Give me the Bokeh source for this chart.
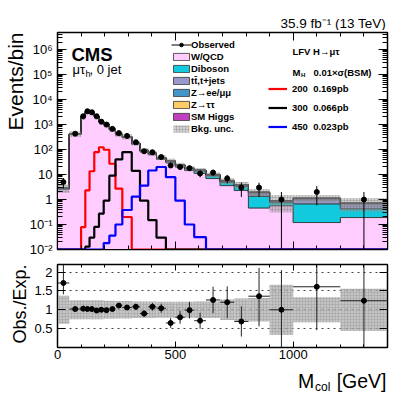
import math
from bokeh.plotting import figure
from bokeh.layouts import column
from bokeh.models import (Range1d, LogAxis, LinearAxis, FixedTicker, Title,
                          CustomJSTickFormatter, Label, Legend, LegendItem)
from bokeh.embed import file_html
from bokeh.resources import INLINE

FONT = "Liberation Sans"

# ---------------- data ----------------
edges = [0, 50, 100, 118, 136, 156, 176, 196, 220, 246, 275, 315, 350, 385, 420,
         460, 500, 540, 580, 630, 690, 750, 810, 900, 1000, 1200, 1400]
observed = [5, 430, 2140, 3400, 3100, 2140, 1300, 1000, 670, 455, 350, 196, 85, 78,
            50, 23, 20, 18, 11, 12, 7, 3, 3, 1, 2, 1]
wqcd = [2.6, 412, 2040, 3265, 2965, 2115, 1248, 960, 618, 377, 300, 163, 83, 62.6,
        40.8, 29.4, 20.1, 14.4, 11.2, 6.9, 3.6, 2.3, 0.46, 0.57, 0.12, 0.19]
diboson = [0.15, 4, 21, 40, 46, 44, 33, 30, 26, 20.5, 16.5, 11, 6.6, 5.8,
           4.3, 3.5, 2.9, 2.5, 2.7, 2.2, 1.4, 1.1, 0.9, 0.21, 0.55, 0.24]
ttbar = [0.08, 2, 10, 14, 17, 13, 12, 13, 9, 9, 10, 5, 3.2, 2.6,
         2.1, 1.5, 1.1, 0.8, 0.8, 0.5, 0.42, 0.36, 0.5, 0.1, 0.4, 0.25]
zll = [0.03, 0.6, 3, 3, 3, 2, 2, 2, 1.3, 1.2, 1.2, 0.7, 0.4, 0.35,
       0.3, 0.2, 0.15, 0.1, 0.1, 0.07, 0.06, 0.05, 0.05, 0.01, 0.03, 0.02]
ztt = [0.03, 1.2, 5, 7, 8, 5, 4, 4, 2.2, 2, 2, 1.1, 0.7, 0.55,
       0.4, 0.3, 0.2, 0.15, 0.15, 0.1, 0.09, 0.07, 0.07, 0.015, 0.04, 0.025]
smh = [0.01, 0.2, 1, 1, 1, 1, 1, 1, 0.5, 0.3, 0.3, 0.2, 0.1, 0.1,
       0.1, 0.1, 0.05, 0.05, 0.05, 0.03, 0.03, 0.02, 0.02, 0.005, 0.01, 0.005]
bkg_unc = [0.37, 0.25, 0.25, 0.25, 0.25, 0.25, 0.25, 0.24, 0.24, 0.23, 0.23, 0.22, 0.22, 0.22,
           0.21, 0.21, 0.21, 0.21, 0.22, 0.22, 0.27, 0.3, 0.31, 0.66, 0.33, 0.56]
sig200 = [0, 0, 0.078, 2.3, 13.5, 78, 123, 98, 27, 2.7, 0.2, 0, 0, 0,
          0, 0, 0, 0, 0, 0, 0, 0, 0, 0, 0, 0]
sig300 = [0, 0, 0, 0.013, 0.03, 0.08, 0.27, 0.9, 9, 40, 78, 14, 0.9, 0.15,
          0.03, 0, 0, 0, 0, 0, 0, 0, 0, 0, 0, 0]
sig450 = [0, 0, 0, 0, 0, 0, 0, 0.018, 0.036, 0.1, 0.38, 1.3, 3.6, 14.5,
          20, 7.8, 0.91, 0.1, 0.031, 0, 0, 0, 0, 0, 0, 0]
ratio = [1.71, 1.02, 1.03, 1.02, 1.02, 0.98, 1.0, 0.99, 1.02, 1.11, 1.06, 1.08, 0.9, 1.08,
         1.04, 0.65, 0.8, 0.99, 0.71, 1.26, 1.2, 0.69, 1.36, 1.0, 1.61, 1.24]
ratio_err_lo = [0.3, 0.05, 0.025, 0.02, 0.02, 0.025, 0.03, 0.035, 0.04, 0.05, 0.06, 0.08, 0.09, 0.1,
                0.12, 0.13, 0.17, 0.22, 0.21, 0.35, 0.42, 0.4, 0.8, 1.0, 1.15, 1.24]
ratio_err_hi = [0.5, 0.05, 0.025, 0.02, 0.02, 0.025, 0.03, 0.035, 0.04, 0.05, 0.06, 0.08, 0.09, 0.1,
                0.12, 0.13, 0.17, 0.22, 0.21, 0.35, 0.42, 0.4, 0.75, 1.05, 1.2, 1.2]

components = [("W/QCD", wqcd, "#ffccff"),
              ("Diboson", diboson, "#12cadd"),
              ("t\u0074\u0304,t+jets", ttbar, "#9999cc"),
              ("Z\u2192ee/\u03bc\u03bc", zll, "#4496c8"),
              ("Z\u2192\u03c4\u03c4", ztt, "#ffcc66"),
              ("SM Higgs", smh, "#c040c0")]
signals = [("200\u00a0\u00a00.169pb", sig200, "#ff0000"),
           ("300\u00a0\u00a00.066pb", sig300, "#000000"),
           ("450\u00a0\u00a00.023pb", sig450, "#0000ff")]

n = len(observed)
lefts = edges[:-1]
rights = edges[1:]
centers = [(a + b) / 2 for a, b in zip(lefts, rights)]
halfw = [(b - a) / 2 for a, b in zip(lefts, rights)]

YMIN, YMAX = 0.01, 4.8e6
FLOOR = 1e-4

blankfmt = CustomJSTickFormatter(code='return "";')


def step_xy(vals):
    xs, ys = [], []
    for i in range(n):
        xs += [edges[i], edges[i + 1]]
        ys += [vals[i], vals[i]]
    return xs, ys


def style_axis(ax, maj, mnr, size="13px", labels=True, standoff=5):
    ax.major_tick_in = maj
    ax.major_tick_out = 0
    ax.minor_tick_in = mnr
    ax.minor_tick_out = 0
    ax.axis_line_color = "black"
    ax.major_tick_line_color = "black"
    ax.minor_tick_line_color = "black"
    ax.major_label_text_font = FONT
    ax.major_label_text_color = "black"
    if labels:
        ax.major_label_text_font_size = size
        ax.major_label_standoff = standoff
    else:
        ax.formatter = blankfmt
        ax.major_label_text_font_size = "1px"
        ax.major_label_standoff = 0


def lab(fig, x, y, text, size, style="normal", align="left"):
    fig.add_layout(Label(x=x, y=y, x_units="screen", y_units="screen", text=text,
                         text_font=FONT, text_font_size=size, text_font_style=style,
                         text_align=align, text_baseline="alphabetic",
                         text_color="black"))


def text_panel(w, h):
    f = figure(width=w, height=h, x_range=Range1d(0, 1), y_range=Range1d(0, 1),
               x_axis_location=None, y_axis_location=None, min_border=0,
               outline_line_color=None, toolbar_location=None, output_backend="svg")
    f.xgrid.visible = False
    f.ygrid.visible = False
    return f


# ---------------- header / footer text panels ----------------
# (their frames are aligned with the plot frames, so x is measured from the frame's left edge)
header = text_panel(400, 30)
lab(header, 328.5, 7, "35.9 fb\u207b\u00b9 (13 TeV)", "13.5px", align="right")

footer = text_panel(400, 27)
lab(footer, 240.5, 11.3, "M", "19.5px")
lab(footer, 257.5, 6, "col", "12px")
lab(footer, 329, 11.3, "[GeV]", "19.5px", align="right")

# ---------------- top panel ----------------
p = figure(width=400, height=227, x_range=Range1d(0, 1400), y_range=Range1d(YMIN, YMAX),
           y_axis_type="log", output_backend="svg", toolbar_location=None,
           min_border_left=57, min_border_right=13, min_border_top=2, min_border_bottom=8)
p.xgrid.visible = False
p.ygrid.visible = False
p.outline_line_color = "black"
p.outline_line_width = 1.5

xt = FixedTicker(ticks=[0, 500, 1000], minor_ticks=list(range(0, 1401, 100)))
yt = FixedTicker(ticks=[10.0 ** k for k in range(-2, 7)],
                 minor_ticks=[m * 10.0 ** k for k in range(-2, 7) for m in range(2, 10)])
logfmt = CustomJSTickFormatter(code="""
const e = Math.round(Math.log10(tick));
if (e == 0) return "1";
if (e == 1) return "10";
const sup = {"-":"\u207b","0":"\u2070","1":"\u00b9","2":"\u00b2","3":"\u00b3","4":"\u2074","5":"\u2075","6":"\u2076","7":"\u2077","8":"\u2078","9":"\u2079"};
return "10" + String(e).split("").map(c => sup[c]).join("");
""")
p.xaxis.ticker = xt
p.yaxis.ticker = yt
style_axis(p.xaxis[0], 8, 4, labels=False)
style_axis(p.yaxis[0], 9, 5, size="13px", standoff=5)
p.yaxis.formatter = logfmt
ax_top = LinearAxis(ticker=xt)
style_axis(ax_top, 8, 4, labels=False)
p.add_layout(ax_top, "above")
ax_r = LogAxis(ticker=yt)
style_axis(ax_r, 9, 5, labels=False)
p.add_layout(ax_r, "right")
p.add_layout(Title(text="Events/bin", align="right", text_font=FONT, text_font_size="21px",
                   text_font_style="normal", text_color="black", standoff=0, offset=0), "left")

# stacked backgrounds (outlined, as in the stack)
cum = [0.0] * n
stack_r = []
for name, vals, col in components:
    lo = [max(c, FLOOR) for c in cum]
    hi = [c + v for c, v in zip(cum, vals)]
    xs_h, ys_h = step_xy(hi)
    xs_l, ys_l = step_xy(lo)
    r = p.patch(xs_h + xs_l[::-1], ys_h + ys_l[::-1], fill_color=col,
                line_color="#333333", line_width=0.8)
    stack_r.append((name, r))
    cum = hi
total = cum

# uncertainty band
unc_lo = [t * (1 - u) for t, u in zip(total, bkg_unc)]
unc_hi = [t * (1 + u) for t, u in zip(total, bkg_unc)]
unc_r = p.quad(left=lefts, right=rights, bottom=[max(v, FLOOR) for v in unc_lo], top=unc_hi,
               fill_color="#9a9a9a", fill_alpha=0.45, line_alpha=0,
               hatch_pattern="+", hatch_color="#666666", hatch_alpha=0.5,
               hatch_scale=3, hatch_weight=0.5)

# signals
sig_r = []
for name, vals, col in signals:
    xs, ys = step_xy([max(v, YMIN) for v in vals])
    r = p.line(xs, ys, line_color=col, line_width=2.2)
    sig_r.append((name, r))

# observed
err_lo = [max(o - math.sqrt(o), FLOOR) for o in observed]
err_hi = [o + math.sqrt(o) for o in observed]
eb = p.segment(x0=centers, y0=err_lo, x1=centers, y1=err_hi, line_color="black", line_width=1)
pts = p.scatter(centers, observed, size=5, color="black")

leg_items = [LegendItem(label="Observed", renderers=[eb, pts])]
leg_items += [LegendItem(label=nm, renderers=[r]) for nm, r in stack_r]
leg_items.append(LegendItem(label="Bkg. unc.", renderers=[unc_r]))

leg1 = Legend(items=leg_items, location=(114, 115), orientation="vertical",
              glyph_width=20, glyph_height=9, label_height=12, spacing=0,
              label_standoff=0, padding=0, margin=0, border_line_alpha=0,
              background_fill_alpha=0, label_text_font=FONT, label_text_font_size="9.5px",
              label_text_font_style="bold", label_text_color="black")
p.add_layout(leg1)

leg2 = Legend(items=[LegendItem(label=nm, renderers=[r]) for nm, r in sig_r],
              location=(211, 113), orientation="vertical",
              glyph_width=19, glyph_height=19, label_height=19, spacing=0,
              label_standoff=5, padding=0, margin=0, border_line_alpha=0,
              background_fill_alpha=0, label_text_font=FONT, label_text_font_size="9.5px",
              label_text_font_style="bold", label_text_color="black")
p.add_layout(leg2)

# texts inside the frame (screen units from frame bottom-left)
lab(p, 14, 195, "CMS", "18.5px", style="bold")
lab(p, 15, 180, "\u03bc\u03c4", "13px")
lab(p, 28, 176, "h", "9px")
lab(p, 32, 180, ", 0 jet", "13px")
lab(p, 235, 198, "LFV H\u2192\u03bc\u03c4", "9.5px", style="bold")
lab(p, 235, 177, "M", "9.5px", style="bold")
lab(p, 243.5, 174.5, "H", "6px", style="bold")
lab(p, 256, 177, "0.01\u00d7\u03c3(BSM)", "9.5px", style="bold")

# ---------------- ratio panel ----------------
p2 = figure(width=400, height=108, x_range=p.x_range, y_range=Range1d(0, 2.2),
            output_backend="svg", toolbar_location=None,
            min_border_left=57, min_border_right=13, min_border_top=7, min_border_bottom=18)
p2.xgrid.visible = False
p2.ygrid.grid_line_color = "#444444"
p2.ygrid.grid_line_dash = "dotted"
p2.ygrid.grid_line_width = 1
p2.outline_line_color = "black"
p2.outline_line_width = 1.5
rt = FixedTicker(ticks=[0.5, 1, 1.5, 2], minor_ticks=[])
p2.xaxis.ticker = xt
p2.yaxis.ticker = rt
style_axis(p2.xaxis[0], 6, 3, size="13px", standoff=2)
style_axis(p2.yaxis[0], 8, 4, size="13px", standoff=5)
a2t = LinearAxis(ticker=xt)
style_axis(a2t, 6, 3, labels=False)
p2.add_layout(a2t, "above")
a2r = LinearAxis(ticker=rt)
style_axis(a2r, 8, 4, labels=False)
p2.add_layout(a2r, "right")
p2.add_layout(Title(text="Obs./Exp.", align="right", text_font=FONT, text_font_size="18px",
                    text_font_style="normal", text_color="black", standoff=4, offset=0), "left")

p2.quad(left=lefts, right=rights, bottom=[1 - u for u in bkg_unc], top=[1 + u for u in bkg_unc],
        fill_color="#b0b0b0", fill_alpha=0.75, line_alpha=0,
        hatch_pattern="+", hatch_color="#888888", hatch_alpha=0.6,
        hatch_scale=3, hatch_weight=0.5)
p2.segment(x0=[c - h for c, h in zip(centers, halfw)], y0=ratio,
           x1=[c + h for c, h in zip(centers, halfw)], y1=ratio, line_color="#222222", line_width=1)
p2.segment(x0=centers, y0=[r - e for r, e in zip(ratio, ratio_err_lo)],
           x1=centers, y1=[r + e for r, e in zip(ratio, ratio_err_hi)],
           line_color="#222222", line_width=1)
p2.scatter(centers, ratio, size=5, color="black")

layout = column(header, p, p2, footer)
open("out.html", "w").write(file_html(layout, INLINE))
